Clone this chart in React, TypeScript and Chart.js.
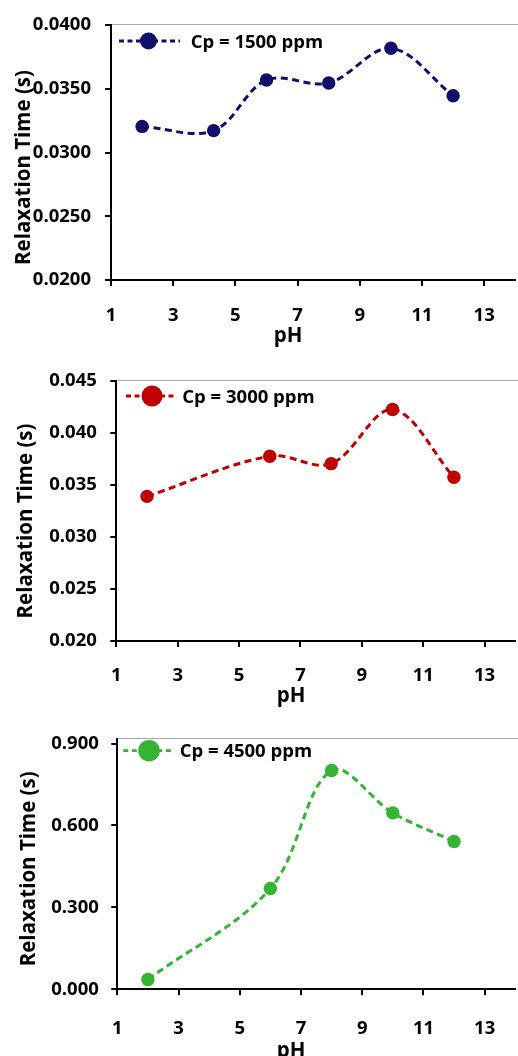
import React, { useEffect, useRef } from 'react';
import { Chart, registerables } from 'chart.js';

Chart.register(...registerables);

const FONT = "'Open Sans', 'DejaVu Sans', sans-serif";

// ---------- data ----------
const xTickValues = [1, 3, 5, 7, 9, 11, 13];

const pH1500 = [2, 4.3, 6, 8, 10, 12];
const tau1500 = [0.03205, 0.03172, 0.03569, 0.03546, 0.03818, 0.03446];
const yTicks1500 = [0.02, 0.025, 0.03, 0.035, 0.04];

const pH3000 = [2, 6, 8, 10, 12];
const tau3000 = [0.03388, 0.03773, 0.03702, 0.04221, 0.03571];
const yTicks3000 = [0.02, 0.025, 0.03, 0.035, 0.04, 0.045];

const pH4500 = [2, 6, 8, 10, 12];
const tau4500 = [0.036, 0.369, 0.801, 0.646, 0.5415];
const yTicks4500 = [0, 0.3, 0.6, 0.9];

const xTitle = 'pH';
const yTitle = 'Relaxation Time (s)';

// ---------- decoration plugin (top border, legend, axis titles) ----------
const decoPlugin = {
  id: 'deco',
  beforeDatasetsDraw(chart: any) {
    const { ctx, chartArea } = chart;
    ctx.save();
    ctx.strokeStyle = '#a8a8a8';
    ctx.lineWidth = 1;
    const y = Math.round(chartArea.top) - 0.5;
    ctx.beginPath();
    ctx.moveTo(chartArea.left + 1, y);
    ctx.lineTo(chart.width, y);
    ctx.stroke();
    ctx.restore();
  },
  afterDraw(chart: any, _args: any, opts: any) {
    const { ctx } = chart;
    const ds = chart.data.datasets[0];
    const color = ds.borderColor;
    ctx.save();
    // legend sample line
    ctx.strokeStyle = color;
    ctx.lineWidth = 2.8;
    ctx.setLineDash([5, 3.5]);
    ctx.beginPath();
    ctx.moveTo(opts.lx0, opts.ly);
    ctx.lineTo(opts.lx1, opts.ly);
    ctx.stroke();
    ctx.setLineDash([]);
    ctx.fillStyle = color;
    ctx.beginPath();
    ctx.arc(opts.cx, opts.ly, opts.r, 0, Math.PI * 2);
    ctx.fill();
    // legend text
    ctx.fillStyle = '#000';
    ctx.font = `bold 18.5px ${FONT}`;
    ctx.textAlign = 'left';
    ctx.textBaseline = 'alphabetic';
    ctx.fillText(ds.label, opts.tx, opts.tyBase);
    // x title
    ctx.font = `bold 20.5px ${FONT}`;
    ctx.textAlign = 'center';
    ctx.fillText(xTitle, opts.xtX, opts.xtBase);
    // y title
    ctx.translate(opts.ytBaseX, opts.ytY);
    ctx.rotate(-Math.PI / 2);
    ctx.fillText(yTitle, 0, 0);
    ctx.restore();
  },
};

type Cfg = {
  top: number;
  height: number;
  plotTop: number;
  plotLeft: number;
  padRight: number;
  xAxisHeight: number;
  label: string;
  color: string;
  xs: number[];
  ys: number[];
  yMin: number;
  yMax: number;
  yTicks: number[];
  yDec: number;
  yTickPad: number;
  xTickPad: number;
  deco: any;
};

const W = 522;

const configs: Cfg[] = [
  {
    top: 0,
    height: 355,
    plotTop: 20,
    plotLeft: 111,
    padRight: 2.6,
    xAxisHeight: 75,
    label: 'Cp = 1500 ppm',
    color: '#10106c',
    xs: pH1500,
    ys: tau1500,
    yMin: 0.02,
    yMax: 0.04,
    yTicks: yTicks1500,
    yDec: 4,
    yTickPad: 14,
    xTickPad: 18.5,
    deco: { lx0: 119, lx1: 180, ly: 41, cx: 148.5, r: 8.5, tx: 190.7, tyBase: 48.1, xtX: 288, xtBase: 341.7, ytBaseX: 30, ytY: 167.5 },
  },
  {
    top: 355,
    height: 360,
    plotTop: 25.5,
    plotLeft: 116.3,
    padRight: 0,
    xAxisHeight: 74,
    label: 'Cp = 3000 ppm',
    color: '#c00000',
    xs: pH3000,
    ys: tau3000,
    yMin: 0.02,
    yMax: 0.045,
    yTicks: yTicks3000,
    yDec: 3,
    yTickPad: 13.5,
    xTickPad: 17.8,
    deco: { lx0: 126, lx1: 175, ly: 41, cx: 152, r: 10.5, tx: 182.3, tyBase: 47.7, xtX: 291, xtBase: 346.7, ytBaseX: 32.4, ytY: 166 },
  },
  {
    top: 715,
    height: 360,
    plotTop: 20,
    plotLeft: 117.3,
    padRight: 2,
    xAxisHeight: 85.7,
    label: 'Cp = 4500 ppm',
    color: '#33b533',
    xs: pH4500,
    ys: tau4500,
    yMin: 0,
    yMax: 0.918,
    yTicks: yTicks4500,
    yDec: 3,
    yTickPad: 12.5,
    xTickPad: 21.9,
    deco: { lx0: 123.3, lx1: 173.3, ly: 35.7, cx: 149, r: 10.8, tx: 179.7, tyBase: 42.2, xtX: 291, xtBase: 342, ytBaseX: 34.8, ytY: 153.8 },
  },
];

function PhChart({ cfg }: { cfg: Cfg }) {
  const ref = useRef<HTMLCanvasElement | null>(null);
  useEffect(() => {
    if (!ref.current) return;
    const gridOpts = {
      display: true,
      drawOnChartArea: false,
      drawTicks: true,
      tickLength: 6,
      color: '#000',
      tickColor: '#000',
      lineWidth: 2,
    };
    const borderOpts = { display: true, color: '#000', width: 2 };
    const tickFont = { family: FONT, size: 18.5, weight: 'bold' as const };
    const chart = new Chart(ref.current, {
      type: 'line',
      data: {
        datasets: [
          {
            label: cfg.label,
            data: cfg.xs.map((x, i) => ({ x, y: cfg.ys[i] })),
            borderColor: cfg.color,
            backgroundColor: cfg.color,
            pointBackgroundColor: cfg.color,
            pointBorderColor: cfg.color,
            pointBorderWidth: 0,
            pointRadius: 6.7,
            borderWidth: 3,
            borderDash: [7, 4.5],
            tension: 0.35,
            fill: false,
          },
        ],
      },
      options: {
        responsive: false,
        animation: false,
        devicePixelRatio: 1,
        layout: { padding: { top: cfg.plotTop, left: 0, right: cfg.padRight, bottom: 0 } },
        plugins: {
          legend: { display: false },
          tooltip: { enabled: false },
          deco: cfg.deco,
        } as any,
        scales: {
          x: {
            type: 'linear',
            min: 1,
            max: 14,
            afterBuildTicks: (s: any) => {
              s.ticks = xTickValues.map((v) => ({ value: v }));
            },
            afterFit: (s: any) => {
              s.height = cfg.xAxisHeight;
            },
            grid: gridOpts,
            border: borderOpts,
            ticks: {
              font: tickFont,
              color: '#000',
              padding: cfg.xTickPad,
              maxRotation: 0,
              autoSkip: false,
              callback: (v: any) => String(v),
            },
          },
          y: {
            type: 'linear',
            min: cfg.yMin,
            max: cfg.yMax,
            afterBuildTicks: (s: any) => {
              s.ticks = cfg.yTicks.map((v) => ({ value: v }));
            },
            afterFit: (s: any) => {
              s.width = cfg.plotLeft;
            },
            grid: gridOpts,
            border: borderOpts,
            ticks: {
              font: tickFont,
              color: '#000',
              padding: cfg.yTickPad,
              autoSkip: false,
              callback: (v: any) => Number(v).toFixed(cfg.yDec),
            },
          },
        },
      } as any,
      plugins: [decoPlugin],
    });
    return () => chart.destroy();
  }, [cfg]);
  return (
    <canvas
      ref={ref}
      width={W}
      height={cfg.height}
      style={{ position: 'absolute', left: 0, top: cfg.top, width: W, height: cfg.height, display: 'block' }}
    />
  );
}

export default function App() {
  return (
    <div
      style={{
        position: 'absolute',
        left: 0,
        top: 0,
        width: 518,
        height: 1056,
        overflow: 'hidden',
        background: '#fff',
      }}
    >
      {configs.map((c, i) => (
        <PhChart key={i} cfg={c} />
      ))}
    </div>
  );
}
